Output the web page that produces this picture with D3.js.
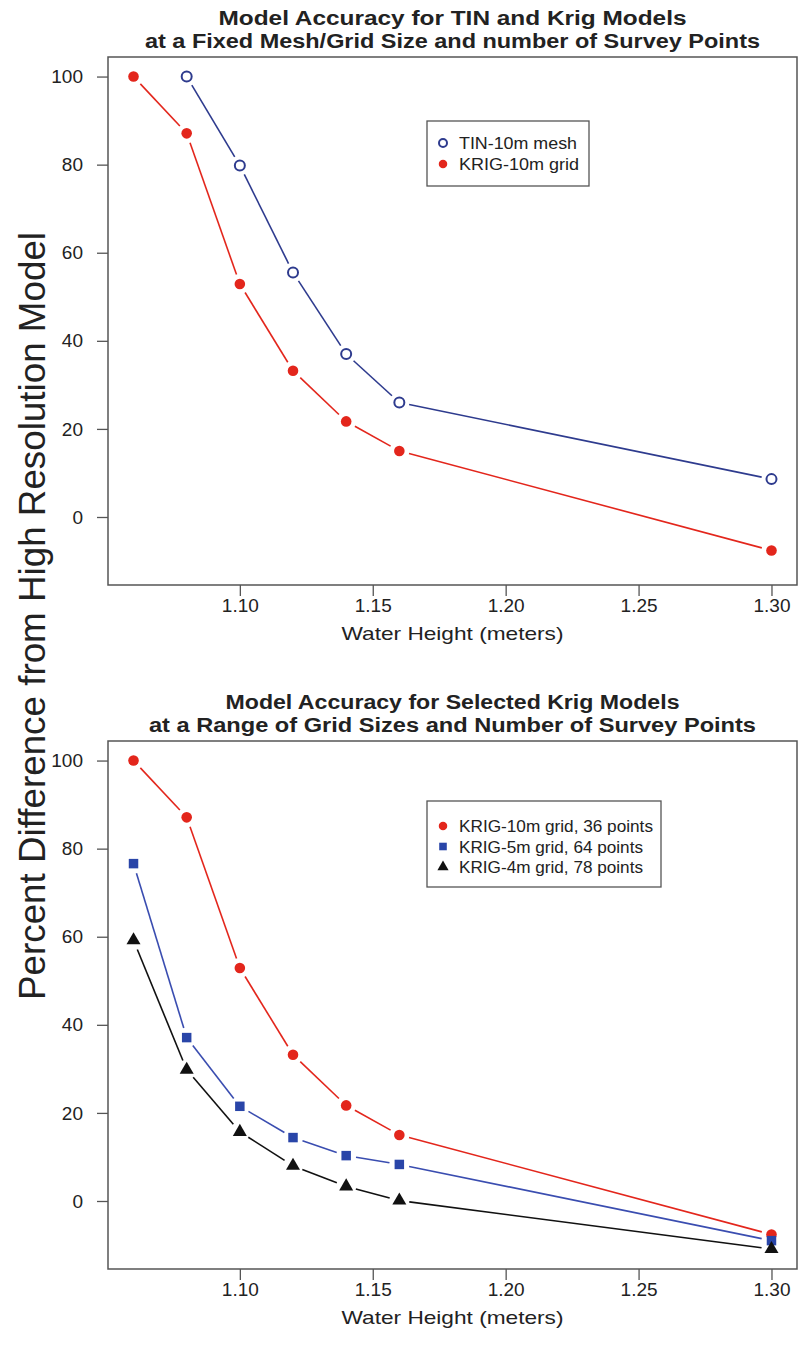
<!DOCTYPE html>
<html>
<head>
<meta charset="utf-8">
<script src="https://cdn.jsdelivr.net/npm/d3@7.9.0/dist/d3.min.js"></script>
<style>
  body { margin: 0; background: #fff; }
  svg text { font-family: "Liberation Sans", Arial, sans-serif; fill: #222; }
</style>
</head>
<body>
<svg id="chart" width="800" height="1353"></svg>
<script>
// water heights (x) and the % difference
const heights = [1.06, 1.08, 1.10, 1.12, 1.14, 1.16, 1.30];
const tinHeights = [1.08, 1.10, 1.12, 1.14, 1.16, 1.30];
const tin10 = [100, 79.8, 55.5, 37.0, 26.0, 8.6];
const krig10 = [100, 87.1, 52.9, 33.2, 21.7, 15.0, -7.6];
const krig5 = [76.6, 37.1, 21.5, 14.4, 10.3, 8.3, -9.0];
const krig4 = [59.2, 29.8, 15.7, 8.0, 3.3, 0.1, -10.9];

const xTicks = [1.10, 1.15, 1.20, 1.25, 1.30];
const yTicks = [0, 20, 40, 60, 80, 100];

const RED = '#e3261c', NAVY = '#2e3b8e', BLUE = '#2945a8', BLACK = '#111';

const svg = d3.select('#chart');

// same scales for both panels (R style 4% padding)
const left = 108, right = 797;
const x = d3.scaleLinear().domain([1.0504, 1.3096]).range([left, right]);

function drawPanel(top, titles, series, legend) {
  const bottom = top + 528;
  const y = d3.scaleLinear().domain([-15.44, 104.44]).range([bottom, top]);
  const g = svg.append('g');

  // titles
  g.selectAll('text.title')
    .data(titles)
    .join('text')
    .attr('class', 'title')
    .attr('x', (left + right) / 2)
    .attr('y', (d, i) => top - 32 + i * 23)
    .attr('text-anchor', 'middle')
    .attr('font-size', 20)
    .attr('font-weight', 'bold')
    .attr('textLength', d => d.w)
    .attr('lengthAdjust', 'spacingAndGlyphs')
    .text(d => d.text);

  // axes
  const ya = g.append('g')
    .attr('transform', `translate(${left},0)`)
    .call(d3.axisLeft(y).tickValues(yTicks).tickSize(11).tickPadding(14));
  const xa = g.append('g')
    .attr('transform', `translate(0,${bottom})`)
    .call(d3.axisBottom(x).tickValues(xTicks).tickFormat(d3.format('.2f')).tickSize(11).tickPadding(3));
  [ya, xa].forEach(a => {
    a.select('.domain').remove();
    a.selectAll('line').attr('stroke', '#555').attr('stroke-width', 1.3);
    a.selectAll('text').attr('font-size', 19).attr('fill', '#222')
      .style('font-family', '"Liberation Sans", Arial, sans-serif');
  });

  g.append('text')
    .attr('x', (left + right) / 2)
    .attr('y', bottom + 55)
    .attr('text-anchor', 'middle')
    .attr('font-size', 19)
    .attr('textLength', 222)
    .attr('lengthAdjust', 'spacingAndGlyphs')
    .text('Water Height (meters)');

  // plot box
  g.append('rect')
    .attr('x', left).attr('y', top)
    .attr('width', right - left).attr('height', bottom - top)
    .attr('fill', 'none').attr('stroke', '#555').attr('stroke-width', 1.5);

  // lines with gaps around points (type = "b")
  const gap = 10;
  series.forEach(s => {
    const pts = s.xs.map((v, i) => [x(v), y(s.ys[i])]);
    const segs = d3.pairs(pts).map(([a, b]) => {
      const dx = b[0] - a[0], dy = b[1] - a[1];
      const len = Math.hypot(dx, dy);
      const ux = dx / len, uy = dy / len;
      return [[a[0] + ux * gap, a[1] + uy * gap], [b[0] - ux * gap, b[1] - uy * gap]];
    });
    g.selectAll(null).data(segs).join('path')
      .attr('d', d3.line())
      .attr('stroke', s.line).attr('stroke-width', 1.6).attr('fill', 'none');
    drawMarks(g, pts, s);
  });

  // legend
  const lg = g.append('g');
  lg.append('rect')
    .attr('x', legend.x).attr('y', legend.y)
    .attr('width', legend.w).attr('height', legend.h)
    .attr('fill', '#fff').attr('stroke', '#555').attr('stroke-width', 1.3);
  series.forEach((s, i) => {
    const cy = legend.y + legend.first + i * legend.step;
    drawMarks(lg, [[legend.x + 16, cy]], s, 0.8);
    lg.append('text')
      .attr('x', legend.x + 32)
      .attr('y', cy)
      .attr('dy', '0.36em')
      .attr('font-size', 17)
      .attr('textLength', s.tw)
      .attr('lengthAdjust', 'spacingAndGlyphs')
      .text(s.name);
  });
}

function drawMarks(g, pts, s, k = 1) {
  if (s.shape === 'open') {
    g.selectAll(null).data(pts).join('circle')
      .attr('cx', d => d[0]).attr('cy', d => d[1]).attr('r', 5 * k)
      .attr('fill', '#fff').attr('stroke', s.color).attr('stroke-width', 2);
  } else if (s.shape === 'dot') {
    g.selectAll(null).data(pts).join('circle')
      .attr('cx', d => d[0]).attr('cy', d => d[1]).attr('r', 5.3 * k)
      .attr('fill', s.color);
  } else {
    const sym = s.shape === 'square' ? d3.symbolSquare : d3.symbolTriangle;
    const size = (s.shape === 'square' ? 90 : 85) * k * k;
    g.selectAll(null).data(pts).join('path')
      .attr('transform', d => `translate(${d[0]},${d[1]})`)
      .attr('d', d3.symbol(sym, size))
      .attr('fill', s.color);
  }
}

drawPanel(57,
  [{ text: 'Model Accuracy for TIN and Krig Models', w: 468 },
   { text: 'at a Fixed Mesh/Grid Size and number of Survey Points', w: 615 }],
  [{ name: 'TIN-10m mesh', xs: tinHeights, ys: tin10, shape: 'open', color: NAVY, line: NAVY, tw: 118 },
   { name: 'KRIG-10m grid', xs: heights, ys: krig10, shape: 'dot', color: RED, line: RED, tw: 120 }],
  { x: 427, y: 121, w: 162, h: 65, first: 22, step: 21 });

drawPanel(741,
  [{ text: 'Model Accuracy for Selected Krig Models', w: 454 },
   { text: 'at a Range of Grid Sizes and Number of Survey Points', w: 607 }],
  [{ name: 'KRIG-10m grid, 36 points', xs: heights, ys: krig10, shape: 'dot', color: RED, line: RED, tw: 194 },
   { name: 'KRIG-5m grid, 64 points', xs: heights, ys: krig5, shape: 'square', color: BLUE, line: '#3a4db0', tw: 184 },
   { name: 'KRIG-4m grid, 78 points', xs: heights, ys: krig4, shape: 'triangle', color: BLACK, line: BLACK, tw: 184 }],
  { x: 427, y: 801, w: 234, h: 86, first: 25, step: 20.5 });

// shared y-axis title
svg.append('text')
  .attr('transform', 'translate(45,616) rotate(-90)')
  .attr('text-anchor', 'middle')
  .attr('font-size', 36)
  .attr('textLength', 768)
  .attr('lengthAdjust', 'spacingAndGlyphs')
  .text('Percent Difference from High Resolution Model');
</script>
</body>
</html>
